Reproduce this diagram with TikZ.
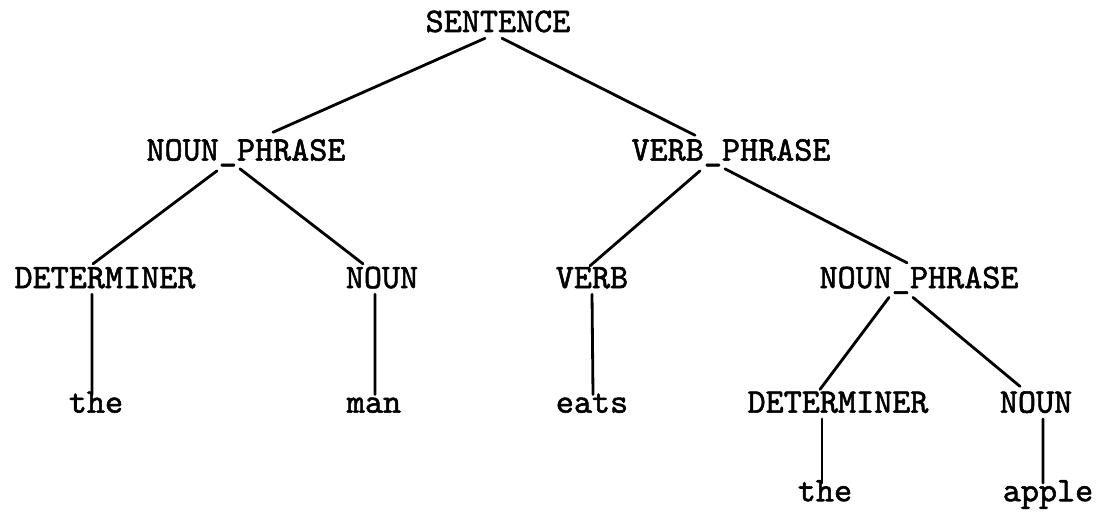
\documentclass[tikz,border=0pt]{standalone}
\usepackage{fontspec}
\newfontfamily\typer{lmmono10-regular.otf}[FakeBold=1.6]
\usepackage{tikz}
\usetikzlibrary{positioning}

\begin{document}
\begin{tikzpicture}[
    tok/.style={font=\typer\fontsize{24.5}{28}\selectfont,
                inner sep=0pt, text height=0.45cm, text depth=0.15cm},
    branch/.style={line width=2pt, line cap=round}
  ]
    \useasboundingbox (0,0) rectangle (27.55,12.8);

    % Root
    \node[tok, anchor=base] (sent) at (12.45,12.0) {SENTENCE};

    % Subject and predicate
    \node[tok] (np) [below=2.6cm of sent, xshift=-6.3cm] {NOUN\_PHRASE};
    \node[tok] (vp) [below=2.6cm of sent, xshift=5.825cm] {VERB\_PHRASE};

    % Second level
    \node[tok] (det) [below=2.575cm of np, xshift=-3.525cm] {DETERMINER};
    \node[tok] (noun) [below=2.575cm of np, xshift=3.4cm] {NOUN};
    \node[tok] (verb) [below=2.575cm of vp, xshift=-3.475cm] {VERB};
    \node[tok] (obj) [below=2.575cm of vp, xshift=4.7cm] {NOUN\_PHRASE};

    % Words and the object's parts
    \node[tok] (the) [below=2.5cm of det, xshift=-0.225cm] {the};
    \node[tok] (man) [below=2.5cm of noun, xshift=-0.2cm] {man};
    \node[tok] (eats) [below=2.5cm of verb] {eats};
    \node[tok] (objdet) [below=2.5cm of obj, xshift=-2.025cm] {DETERMINER};
    \node[tok] (objnoun) [below=2.5cm of obj, xshift=2.925cm] {NOUN};

    % Object words
    \node[tok] (objthe) [below=1.6cm of objdet, xshift=-0.325cm] {the};
    \node[tok] (apple) [below=1.6cm of objnoun, xshift=0.3cm] {apple};

    % Branches
    \draw[branch] ([xshift=-0.325cm]sent.south) -- ([xshift=0.675cm,yshift=0.25cm]np.north);
    \draw[branch] ([xshift=0.1cm]sent.south) -- ([xshift=-0.9cm,yshift=0.175cm]vp.north);

    \draw[branch] ([xshift=-0.725cm,yshift=-0.1cm]np.south) -- ([xshift=-0.3cm,yshift=0.15cm]det.north);
    \draw[branch] ([xshift=-0.15cm,yshift=-0.05cm]np.south) -- ([xshift=-0.475cm,yshift=0.15cm]noun.north);
    \draw[branch] ([xshift=-0.775cm,yshift=-0.1cm]vp.south) -- ([xshift=-0.05cm,yshift=0.1cm]verb.north);
    \draw[branch] ([xshift=-0.15cm,yshift=-0.05cm]vp.south) -- ([xshift=-0.3cm,yshift=0.175cm]obj.north);

    \draw[branch] ([xshift=-0.325cm]det.south) -- ([xshift=-0.1cm]the.north);
    \draw[branch] ([xshift=-0.175cm]noun.south) -- ([xshift=0.025cm]man.north);
    \draw[branch] (verb.south) -- ([xshift=0.025cm]eats.north);
    \draw[branch] ([xshift=-0.75cm,yshift=-0.075cm]obj.south) -- ([xshift=-0.45cm,yshift=0.125cm]objdet.north);
    \draw[branch] ([xshift=-0.15cm,yshift=-0.075cm]obj.south) -- ([xshift=-0.4cm,yshift=0.2cm]objnoun.north);

    \draw[branch] ([xshift=-0.4cm]objdet.south) -- ([xshift=-0.075cm]objthe.north);
    \draw[branch] ([xshift=0.175cm]objnoun.south) -- ([xshift=-0.125cm]apple.north);
\end{tikzpicture}
\end{document}
